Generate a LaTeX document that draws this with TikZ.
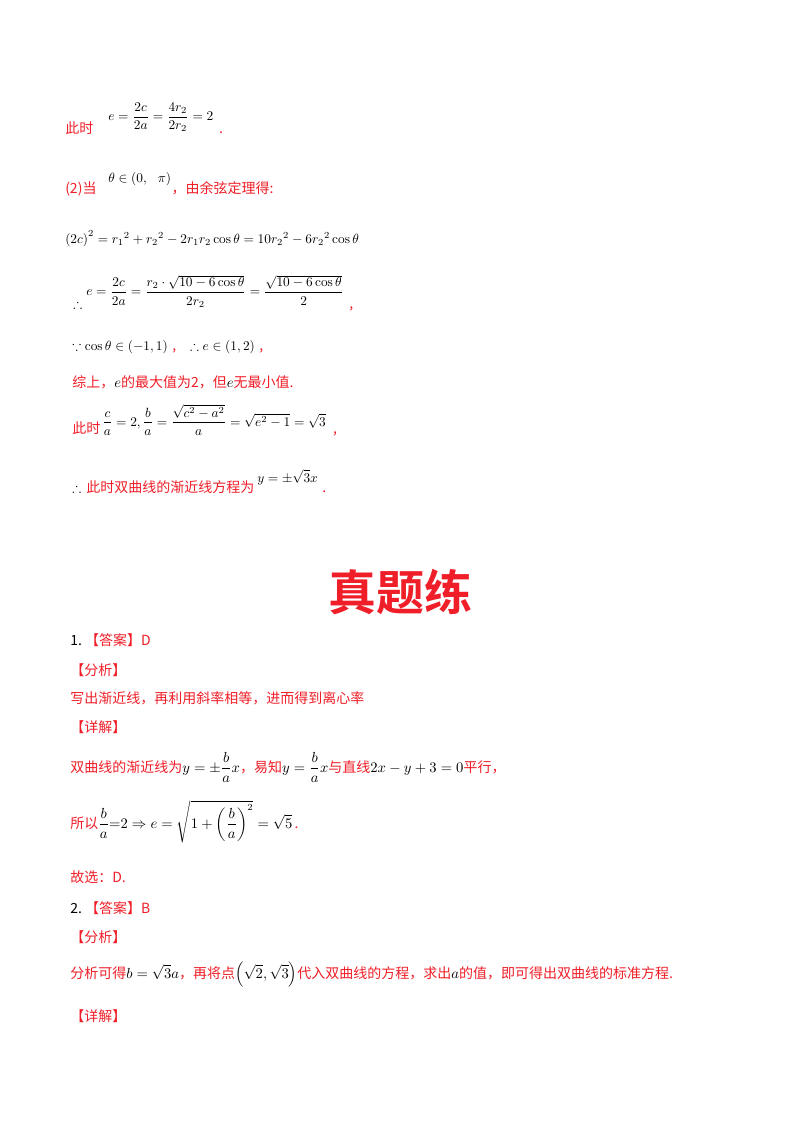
\documentclass[tikz,border=0pt]{standalone}
\usepackage{amsmath,amssymb}
\usepackage{fontspec}
\newfontfamily\cjk{Noto Sans CJK SC}
\newfontfamily\cjkb{Noto Sans CJK SC Bold}
\definecolor{rd}{RGB}{240,30,40}
\begin{document}
\begin{tikzpicture}[x=0.75pt,y=-0.75pt,
  t/.style={anchor=base west,inner sep=0pt,font=\cjk\fontsize{10.5}{12}\selectfont,text=rd},
  m/.style={anchor=base west,inner sep=0pt,font=\fontsize{10}{12}\selectfont,text=black},
  mc/.style={anchor=west,inner sep=0pt,font=\fontsize{10}{12}\selectfont,text=black}]
\useasboundingbox[fill=white] (0,0) rectangle (800,1132);
\node[t] (a1) at (65,133) {此时};
\node[mc] (a2) at (108,117) {$e=\dfrac{2c}{2a}=\dfrac{4r_2}{2r_2}=2$};
\node[t,xshift=4pt] (a3) at (a2.east |- a1.base) {.};
\node[t] (b1) at (65,193) {(2)当};
\node[m] (b2) at (108,182) {$\theta\in\left(0,\ \ \pi\right)$};
\node[t] (b3) at (b2.east |- b1.base) {，由余弦定理得:};
\node[m] (c1) at (65,243) {$\left(2c\right)^2=r_1{}^2+r_2{}^2-2r_1r_2\cos\theta=10r_2{}^2-6r_2{}^2\cos\theta$};
\node[m] (d0) at (73,308) {$\therefore$};
\node[mc] (d1) at (86,291) {$e=\dfrac{2c}{2a}=\dfrac{r_2\cdot\sqrt{10-6\cos\theta}}{2r_2}=\dfrac{\sqrt{10-6\cos\theta}}{2}$};
\node[t,xshift=4pt] (d2) at (d1.east |- d0.base) {,};
\node[m] (e1) at (72,350) {$\because\cos\theta\in(-1,1)$};
\node[t,xshift=3pt] (e2) at (e1.base east) {,};
\node[m,xshift=10pt] (e3) at (e2.base east) {$\therefore e\in(1,2)$};
\node[t,xshift=3pt] (e4) at (e3.base east) {,};
\node[t] (f1) at (72,387) {综上，\textcolor{black}{$e$}的最大值为2，但\textcolor{black}{$e$}无最小值.};
\node[t] (g1) at (72,433) {此时};
\node[mc] (g2) at (102,420) {$\dfrac{c}{a}=2,\dfrac{b}{a}=\dfrac{\sqrt{c^2-a^2}}{a}=\sqrt{e^2-1}=\sqrt3$};
\node[t,xshift=5pt] (g3) at (g2.east |- g1.base) {,};
\node[m] (h0) at (72,492) {$\therefore$};
\node[t] (h1) at (86,492) {此时双曲线的渐近线方程为};
\node[m] (h2) at (257,482) {$y=\pm\sqrt3x$};
\node[t,xshift=3pt] (h3) at (h2.east |- h1.base) {.};
\node[anchor=center,inner sep=0pt,font=\cjkb\fontsize{36}{40}\selectfont,text=rd] (title) at (400,592) {真题练};
\node[t] (q1) at (70,645) {\textcolor{black}{1.}\ 【答案】D};
\node[t] (q2) at (70,675) {【分析】};
\node[t] (q3) at (70,703) {写出渐近线，再利用斜率相等，进而得到离心率};
\node[t] (q4) at (70,732) {【详解】};
\node[t] (q5) at (70,772) {双曲线的渐近线为\textcolor{black}{$y=\pm\dfrac{b}{a}x$}，易知\textcolor{black}{$y=\dfrac{b}{a}x$}与直线\textcolor{black}{$2x-y+3=0$}平行，};
\node[t] (q6) at (70,828) {所以\textcolor{black}{$\dfrac{b}{a}{=}2\Rightarrow e=\sqrt{1+\left(\dfrac{b}{a}\right)^2}=\sqrt5$}\,.};
\node[t] (q7) at (70,882) {故选：D.};
\node[t] (r1) at (70,913) {\textcolor{black}{2.}\ 【答案】B};
\node[t] (r2) at (70,942) {【分析】};
\node[t] (r3) at (70,978) {分析可得\textcolor{black}{$b=\sqrt3a$}，再将点\textcolor{black}{$\left(\sqrt2,\sqrt3\right)$}代入双曲线的方程，求出\textcolor{black}{$a$}的值，即可得出双曲线的标准方程.};
\node[t] (r4) at (70,1021) {【详解】};
\end{tikzpicture}
\end{document}
